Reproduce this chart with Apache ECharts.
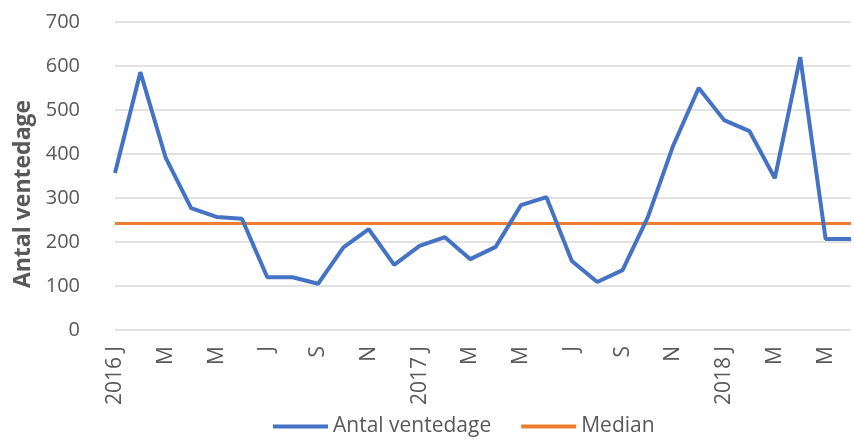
<!DOCTYPE html>
<html><head><meta charset="utf-8">
<script src="https://cdn.jsdelivr.net/npm/echarts@6/dist/echarts.min.js"></script>
<style>html,body{margin:0;padding:0;background:#fff}#c{width:854px;height:439px}</style>
</head><body><div id="c"></div>
<script>
const categories = ["2016 J","F","M","A","M","J","J","A","S","O","N","D",
  "2017 J","F","M","A","M","J","J","A","S","O","N","D",
  "2018 J","F","M","A","M","J"];
const antalVentedage = [357,586,391,277,257,253,120,120,105,188,229,148,
  191,211,161,189,284,302,157,109,136,257,420,550,
  477,452,345,620,207,207];
const medianValue = 242;
const medianSeries = categories.map(() => medianValue);
const yTicks = {min:0, max:700, interval:100};

const font = '"Open Sans", "Liberation Sans", sans-serif';
const chart = echarts.init(document.getElementById('c'));
chart.setOption({
  animation:false,
  textStyle:{fontFamily:font},
  grid:{left:115, right:3, top:22, bottom:109, containLabel:false},
  legend:{
    top:411, left:268, itemWidth:55, itemHeight:4, itemGap:30,
    textStyle:{fontSize:21, color:'#595959', fontFamily:font},
    data:[{name:'Antal ventedage', icon:'rect'},{name:'Median', icon:'rect'}]
  },
  xAxis:{
    type:'category', data:categories, boundaryGap:false,
    axisLine:{show:false}, axisTick:{show:false},
    axisLabel:{interval:1, rotate:90, fontSize:21, color:'#595959', margin:16, fontFamily:font}
  },
  yAxis:{
    type:'value', min:yTicks.min, max:yTicks.max, interval:yTicks.interval,
    name:'Antal ventedage', nameLocation:'middle', nameGap:80, nameRotate:90,
    nameTextStyle:{fontSize:23, fontWeight:'bold', color:'#595959', fontFamily:font, padding:[0,36,0,0]},
    axisLine:{show:false}, axisTick:{show:false},
    axisLabel:{fontSize:20, color:'#595959', margin:35, fontFamily:font},
    splitLine:{lineStyle:{color:'#d9d9d9', width:1.5}}
  },
  series:[
    {name:'Antal ventedage', type:'line', data:antalVentedage, symbol:'none',
     lineStyle:{color:'#4472C4', width:4}, itemStyle:{color:'#4472C4'}, z:3},
    {name:'Median', type:'line', data:medianSeries, symbol:'none',
     lineStyle:{color:'#ED7D31', width:3}, itemStyle:{color:'#ED7D31'}, z:2}
  ]
});
</script></body></html>
